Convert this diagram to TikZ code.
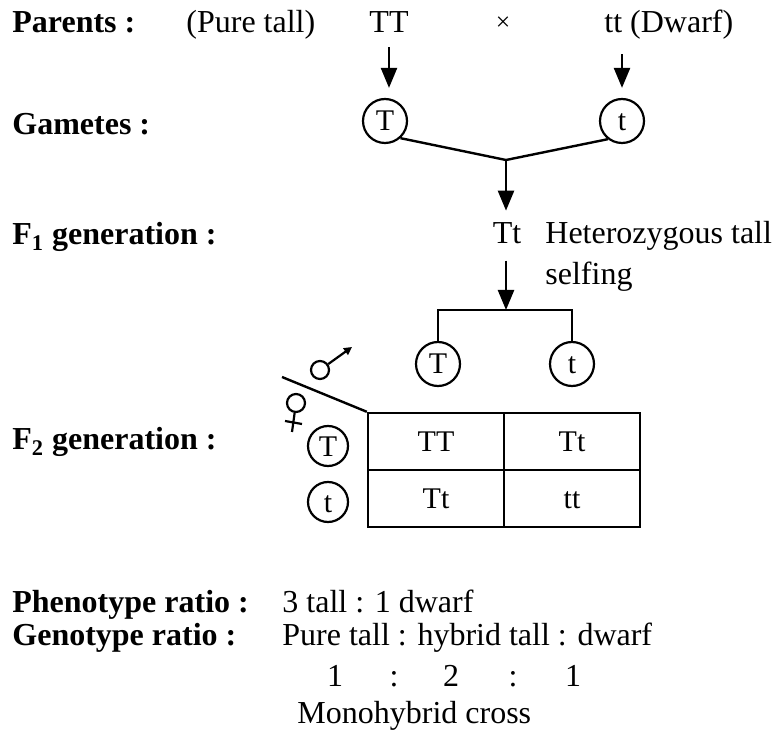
\documentclass[tikz,border=0pt]{standalone}
\usepackage{fontspec}
\setmainfont{Liberation Serif}
\usetikzlibrary{arrows.meta}
\begin{document}
\begin{tikzpicture}[x=0.5pt,y=-0.5pt,
  lab/.style={font=\fontsize{16}{18}\selectfont\bfseries, anchor=base west, inner sep=0pt},
  txt/.style={font=\fontsize{16}{18}\selectfont, inner sep=0pt},
  gam/.style={draw, circle, line width=1.1pt, minimum size=22pt, inner sep=0pt,
    font=\fontsize{15}{17}\selectfont, text height=10pt, text depth=0pt},
  cell/.style={draw, line width=1.2pt, minimum width=68pt, minimum height=28.5pt, inner sep=0pt,
    font=\fontsize{15}{17}\selectfont, text height=10pt, text depth=0pt},
  arr/.style={line width=1.2pt, -{Triangle[length=10pt,width=8pt]}},
  ln/.style={line width=1.2pt},
  sym/.style={draw, circle, line width=1.1pt, minimum size=9pt, inner sep=0pt},
]
\useasboundingbox (0,0) rectangle (776,732);

% parents
\node[lab] (par) at (12,33) {Parents :};
\node[txt, anchor=base west] (pure) at (186,33) {(Pure tall)};
\node[txt, anchor=base] (TT) at (389,33) {TT};
\node[txt, anchor=base, scale=0.8] (cross) at (503,31) {\texttimes};
\node[txt, anchor=base west] (tt) at (604,33) {tt (Dwarf)};

% gametes of the parents
\node[lab] (gl) at (12,135) {Gametes :};
\node[gam] (gT) at (385,121) {T};
\node[gam] (gt) at (622,121) {t};
\draw[arr] ([yshift=-7pt]TT.south) -- ([yshift=5pt]TT.south |- gT.north);
\draw[arr] ([yshift=-7pt]tt.south -| gt.north) -- ([yshift=5pt]gt.north);
\coordinate (vj) at (506,160);
\draw[ln] (gT.-48) -- (vj) -- (gt.-128);

% F1
\node[lab] (f1) at (12,245) {F\textsubscript{1} generation :};
\node[txt, anchor=base] (Tt) at (507,244) {Tt};
\node[txt, anchor=base west] (het) at (545,244) {Heterozygous tall};
\node[txt, anchor=base west] (self) at (545,285) {selfing};
\draw[arr] (vj) -- ([yshift=6pt]vj |- Tt.north);

% gametes of F1
\node[gam] (gT2) at (438,364) {T};
\node[gam] (gt2) at (572,364) {t};
\coordinate (sj) at (506,310);
\draw[arr] ([yshift=-8pt]Tt.south -| sj) -- (sj);
\draw[ln] (gT2.north) |- (sj) -| (gt2.north);

% F2 checkerboard
\node[lab] (f2) at (12,450) {F\textsubscript{2} generation :};
\node[cell] (c11) at (436,441.5) {TT};
\node[cell] (c12) at (572,441.5) {Tt};
\node[cell] (c21) at (436,498.5) {Tt};
\node[cell] (c22) at (572,498.5) {tt};
\node[gam, minimum size=20pt] (fT) at (328,446) {T};
\node[gam, minimum size=20pt] (ft) at (328,502) {t};
\coordinate (sl) at (282,377);
\draw[ln] (sl) -- (c11.north west);

% male symbol
\node[sym] (mc) at (320,370) {};
\coordinate (mtip) at (352,347);
\draw[line width=1.1pt, -{Triangle[length=4pt,width=4pt]}] (mc) -- (mtip);
% female symbol
\node[sym] (fc) at (296,403) {};
\coordinate (fs) at (292,432);
\draw[line width=1.1pt] (fc) -- (fs);
\coordinate (fb1) at (285,421);
\coordinate (fb2) at (302,424);
\draw[line width=1.1pt] (fb1) -- (fb2);

% ratios
\node[lab] (phl) at (12,612) {Phenotype ratio :};
\node[txt, anchor=base west] (ph) at (282,612) {3 tall : 1 dwarf};
\node[lab] (gel) at (12,645) {Genotype ratio :};
\node[txt, anchor=base west] (ge) at (282,645) {Pure tall : hybrid tall : dwarf};
\node[txt, anchor=base] (r1) at (335,686) {1};
\node[txt, anchor=base] (k1) at (394,686) {:};
\node[txt, anchor=base] (r2) at (451,686) {2};
\node[txt, anchor=base] (k2) at (513,686) {:};
\node[txt, anchor=base] (r3) at (573,686) {1};
\node[txt, anchor=base west] (mono) at (297,723) {Monohybrid cross};
\end{tikzpicture}
\end{document}
